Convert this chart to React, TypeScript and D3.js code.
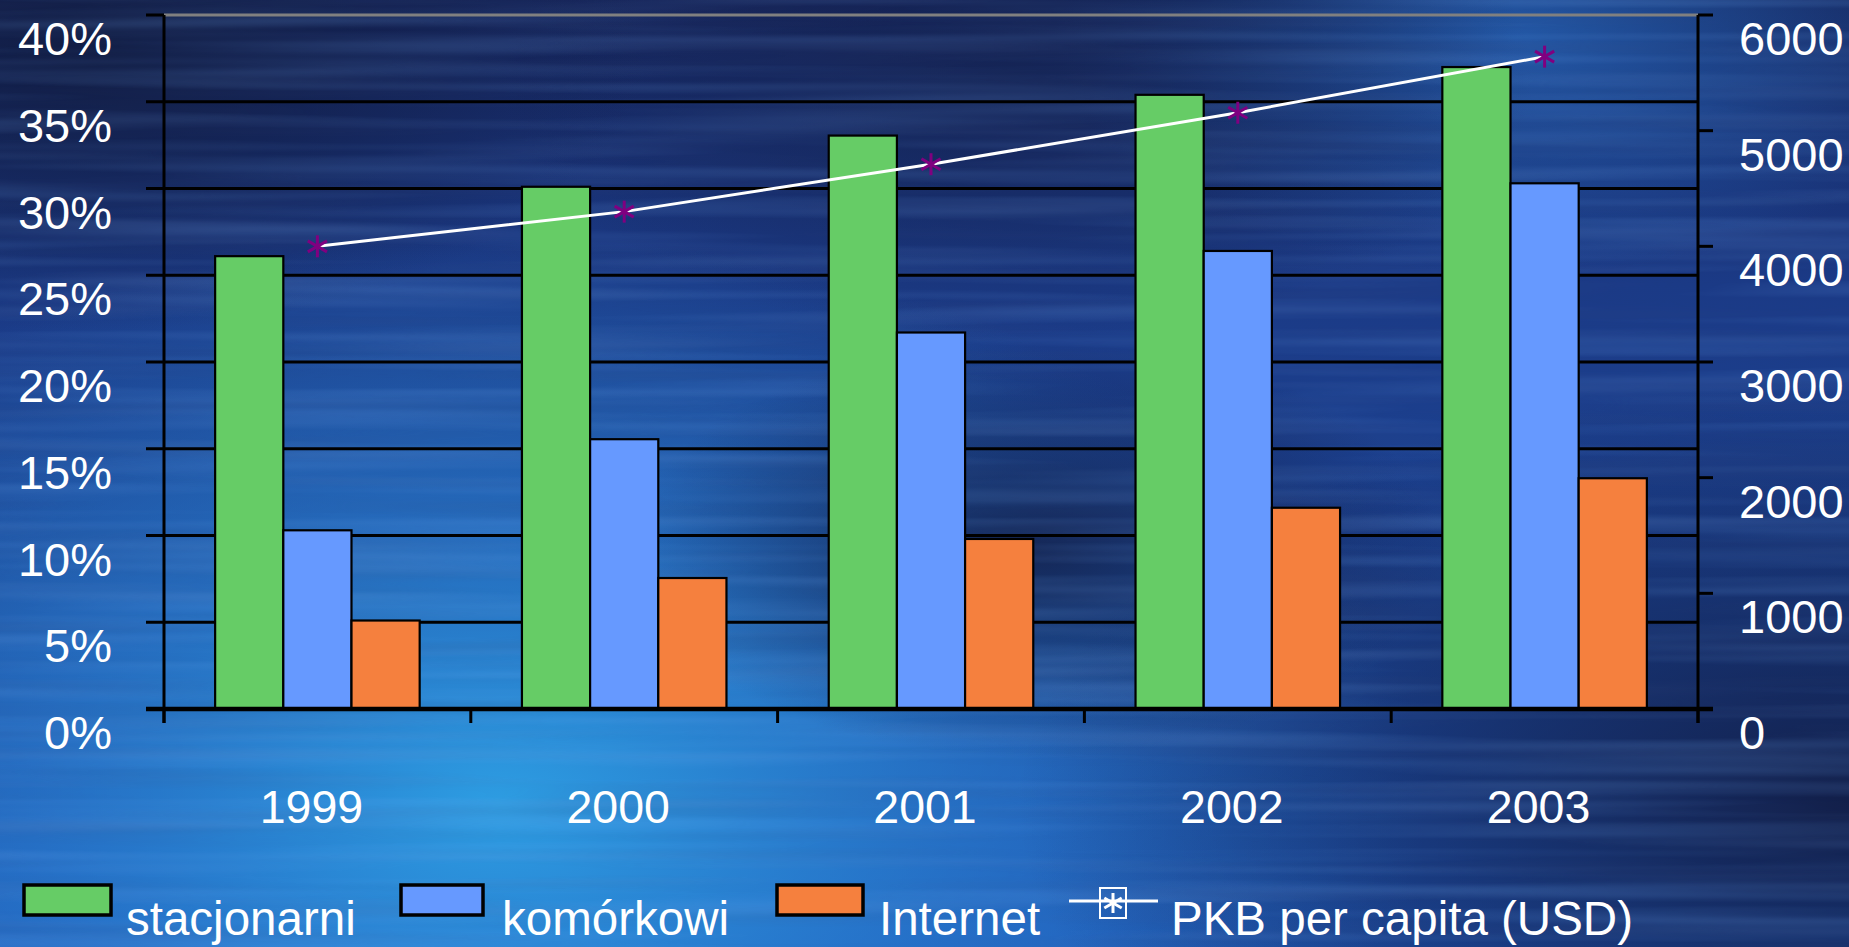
import * as d3 from "d3";

const years = ["1999", "2000", "2001", "2002", "2003"];
const seriesNames = ["stacjonarni", "komórkowi", "Internet"];
const stacjonarni = [26.1, 30.1, 33.05, 35.4, 37.0];
const komorkowi = [10.3, 15.55, 21.7, 26.4, 30.3];
const internet = [5.1, 7.55, 9.8, 11.6, 13.3];
const pkb = [4000, 4300, 4710, 5155, 5640];
const pctTicks = [0, 5, 10, 15, 20, 25, 30, 35, 40];
const usdTicks = [0, 1000, 2000, 3000, 4000, 5000, 6000];
const lineName = "PKB per capita (USD)";

const colors = ["#66cc66", "#6699ff", "#f5803e"];
const font = "'Liberation Sans', Arial, sans-serif";

const width = 1849;
const height = 947;
const left = 164;
const right = 1698;
const top = 15;
const bottom = 709;

const Asterisk = ({ x, y, r, color, w = 3 }: { x: number; y: number; r: number; color: string; w?: number }) => {
  const d = r * 0.87;
  return (
    <g stroke={color} strokeWidth={w}>
      <line x1={x} y1={y - r} x2={x} y2={y + r} />
      <line x1={x - d} y1={y - r / 2} x2={x + d} y2={y + r / 2} />
      <line x1={x - d} y1={y + r / 2} x2={x + d} y2={y - r / 2} />
    </g>
  );
};

const App = () => {
  const values = [stacjonarni, komorkowi, internet];

  const x = d3.scaleBand().domain(years).range([left, right]).padding(0);
  const sub = d3
    .scaleBand()
    .domain(seriesNames)
    .range([0, x.bandwidth()])
    .paddingInner(0)
    .paddingOuter(0.75);
  const y = d3.scaleLinear([0, 40], [bottom, top]);
  const y2 = d3.scaleLinear([0, 6000], [bottom, top]);
  const line = d3.line<number>((d, i) => x(years[i])! + x.bandwidth() / 2, (d) => y2(d));

  const boundaries = d3.range(years.length + 1).map((i) => left + i * x.step());

  const legend = [
    { sx: 24, sw: 87, tx: 126 },
    { sx: 401, sw: 82, tx: 502 },
    { sx: 777, sw: 86, tx: 879 },
  ];

  return (
    <div style={{ position: "absolute", left: 0, top: 0 }}>
      <svg width={width} height={height} style={{ display: "block" }}>
        <defs>
          <linearGradient id="bg" x1="0" y1="0" x2="0" y2="1">
            <stop offset="0" stopColor="#15245a" />
            <stop offset="0.3" stopColor="#1b3a86" />
            <stop offset="0.65" stopColor="#1c4596" />
            <stop offset="1" stopColor="#1f55b4" />
          </linearGradient>
          <radialGradient
            id="bright"
            cx="0.27"
            cy="0.85"
            r="0.5"
            gradientTransform="translate(0.27 0.85) scale(1 1.2) translate(-0.27 -0.85)"
          >
            <stop offset="0" stopColor="#2ea2e6" stopOpacity="0.95" />
            <stop offset="0.5" stopColor="#2a84d6" stopOpacity="0.6" />
            <stop offset="1" stopColor="#2a84d6" stopOpacity="0" />
          </radialGradient>
          <radialGradient id="darkR" cx="1" cy="0.85" r="0.45">
            <stop offset="0" stopColor="#111c44" stopOpacity="0.95" />
            <stop offset="1" stopColor="#111c44" stopOpacity="0" />
          </radialGradient>
          <radialGradient id="darkTL" cx="0.05" cy="0.05" r="0.3">
            <stop offset="0" stopColor="#101b40" stopOpacity="0.9" />
            <stop offset="1" stopColor="#101b40" stopOpacity="0" />
          </radialGradient>
          <radialGradient id="darkMid" cx="0.56" cy="0.58" r="0.22">
            <stop offset="0" stopColor="#121e48" stopOpacity="0.85" />
            <stop offset="1" stopColor="#121e48" stopOpacity="0" />
          </radialGradient>
          <radialGradient id="darkTop" cx="0.55" cy="0.08" r="0.28">
            <stop offset="0" stopColor="#14224f" stopOpacity="0.7" />
            <stop offset="1" stopColor="#14224f" stopOpacity="0" />
          </radialGradient>
          <radialGradient id="glowTop" cx="0.82" cy="0.04" r="0.25">
            <stop offset="0" stopColor="#2a72cc" stopOpacity="0.65" />
            <stop offset="1" stopColor="#2a72cc" stopOpacity="0" />
          </radialGradient>
          <filter id="streaks" x="0" y="0" width="100%" height="100%">
            <feTurbulence type="fractalNoise" baseFrequency="0.0015 0.06" numOctaves={2} seed={3} />
            <feColorMatrix
              type="matrix"
              values="0 0 0 0 0.2  0 0 0 0 0.45  0 0 0 0 0.95  0 0 0 1.2 -0.5"
            />
          </filter>
          <filter id="streaksDark" x="0" y="0" width="100%" height="100%">
            <feTurbulence type="fractalNoise" baseFrequency="0.002 0.05" numOctaves={2} seed={11} />
            <feColorMatrix
              type="matrix"
              values="0 0 0 0 0.05  0 0 0 0 0.08  0 0 0 0 0.22  0 0 0 1.2 -0.5"
            />
          </filter>
        </defs>

        <rect width={width} height={height} fill="url(#bg)" />
        <rect width={width} height={height} fill="url(#glowTop)" />
        <rect width={width} height={height} fill="url(#darkTop)" />
        <rect width={width} height={height} fill="url(#bright)" />
        <rect width={width} height={height} fill="url(#darkMid)" />
        <rect width={width} height={height} fill="url(#darkR)" />
        <rect width={width} height={height} fill="url(#darkTL)" />
        <rect width={width} height={height} filter="url(#streaks)" opacity={0.35} />
        <rect width={width} height={height} filter="url(#streaksDark)" opacity={0.25} />

        {/* gridlines */}
        <g>
          {pctTicks.map((t) => (
            <line
              key={t}
              x1={left}
              x2={right}
              y1={y(t)}
              y2={y(t)}
              stroke={t === 40 ? "#808080" : "#000"}
              strokeWidth={3}
            />
          ))}
        </g>

        {/* bars */}
        {values.map((vals, s) => (
          <g key={s} fill={colors[s]} stroke="#000" strokeWidth={2.2}>
            {vals.map((v, i) => (
              <rect
                key={i}
                x={x(years[i])! + sub(seriesNames[s])!}
                y={y(v)}
                width={sub.bandwidth()}
                height={bottom - y(v)}
              />
            ))}
          </g>
        ))}

        {/* axes */}
        <g stroke="#000">
          <line x1={left} x2={left} y1={top} y2={bottom + 14} strokeWidth={3} />
          <line x1={right} x2={right} y1={top} y2={bottom + 14} strokeWidth={3} />
          {pctTicks.map((t) => (
            <line key={"l" + t} x1={left - 18} x2={left} y1={y(t)} y2={y(t)} strokeWidth={3} />
          ))}
          {usdTicks.map((t) => (
            <line key={"r" + t} x1={right} x2={right + 15} y1={y2(t)} y2={y2(t)} strokeWidth={3} />
          ))}
          {boundaries.map((b, i) => (
            <line key={"c" + i} x1={b} x2={b} y1={bottom} y2={bottom + 14} strokeWidth={3} />
          ))}
          <line x1={left - 18} x2={right + 15} y1={bottom} y2={bottom} strokeWidth={4.5} />
        </g>

        {/* PKB line */}
        <path d={line(pkb)!} fill="none" stroke="#fff" strokeWidth={3} />
        {pkb.map((v, i) => (
          <Asterisk key={i} x={x(years[i])! + x.bandwidth() / 2} y={y2(v)} r={11} color="#800080" />
        ))}

        {/* tick labels */}
        <g fill="#fff" fontFamily={font} fontSize={47}>
          {pctTicks.map((t) => (
            <text key={t} x={112} y={y(t) + 40} textAnchor="end">
              {t + "%"}
            </text>
          ))}
          {usdTicks.map((t) => (
            <text key={t} x={1739} y={y2(t) + 40}>
              {t}
            </text>
          ))}
        </g>
        <g fill="#fff" fontFamily={font} fontSize={46.5}>
          {years.map((yr) => (
            <text key={yr} x={x(yr)! + x.bandwidth() / 2 - 6} y={823} textAnchor="middle">
              {yr}
            </text>
          ))}
        </g>

        {/* legend */}
        <g fontFamily={font} fontSize={47.5} fill="#fff">
          {legend.map((l, i) => (
            <g key={i}>
              <rect x={l.sx} y={885} width={l.sw} height={30} fill={colors[i]} stroke="#000" strokeWidth={3.5} />
              <text x={l.tx} y={935}>
                {seriesNames[i]}
              </text>
            </g>
          ))}
          <line x1={1069} x2={1158} y1={901} y2={901} stroke="#fff" strokeWidth={3} />
          <rect x={1100} y={888} width={26} height={30} fill="none" stroke="#fff" strokeWidth={2} />
          <Asterisk x={1113} y={903} r={10} color="#fff" />
          <text x={1171} y={935}>
            {lineName}
          </text>
        </g>
      </svg>
    </div>
  );
};

export default App;
